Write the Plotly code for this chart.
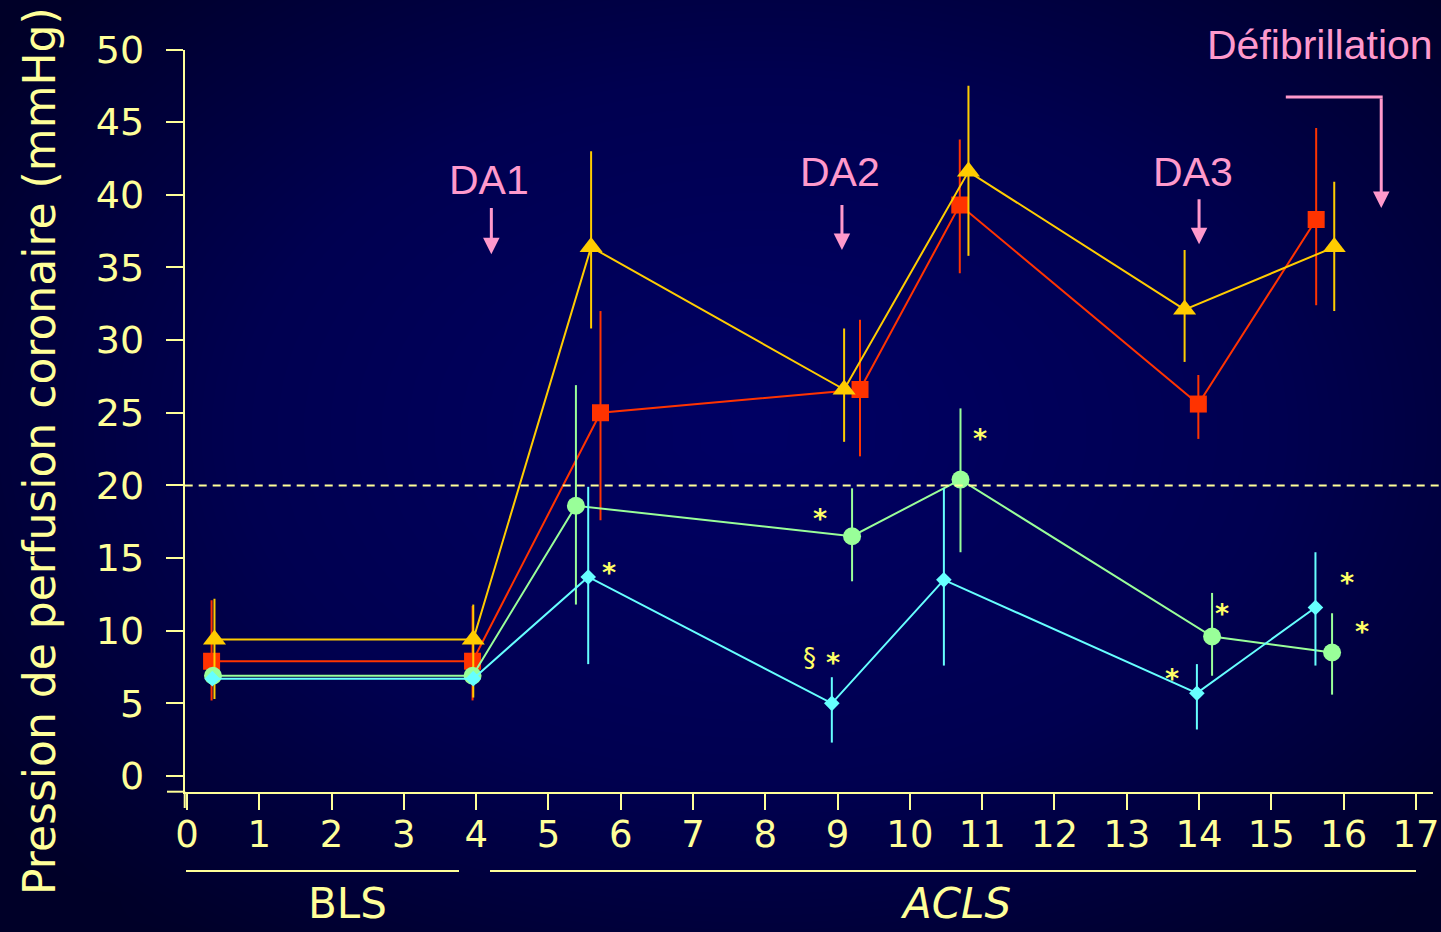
import numpy as np
import plotly.graph_objects as go

# ---- data (time in minutes, coronary perfusion pressure in mmHg) ----
tick_vals_x = list(range(0, 18))
tick_vals_y = list(range(0, 55, 5))

yellow_x = [0.38, 3.96, 5.59, 9.09, 10.81, 13.80, 15.87]
yellow_y = [9.4, 9.4, 36.4, 26.6, 41.6, 32.1, 36.4]
yellow_plus = [2.8, 2.4, 6.6, 4.2, 5.9, 4.1, 4.5]
yellow_minus = [4.1, 4.0, 5.6, 3.6, 5.8, 3.6, 4.4]

red_x = [0.34, 3.95, 5.72, 9.31, 10.69, 13.99, 15.62]
red_y = [7.9, 7.9, 25.0, 26.6, 39.3, 25.6, 38.3]
red_plus = [4.2, 3.8, 7.0, 4.8, 4.5, 2.0, 6.3]
red_minus = [2.7, 2.7, 7.4, 4.6, 4.7, 2.4, 5.9]

green_x = [0.36, 3.95, 5.38, 9.20, 10.70, 14.18, 15.84]
green_y = [6.9, 6.9, 18.6, 16.5, 20.4, 9.6, 8.5]
green_plus = [0, 0, 8.3, 3.3, 4.9, 3.0, 2.7]
green_minus = [0, 0, 6.8, 3.1, 5.0, 2.7, 2.9]

cyan_x = [0.35, 3.96, 5.55, 8.92, 10.47, 13.97, 15.61]
cyan_y = [6.7, 6.7, 13.7, 5.0, 13.5, 5.7, 11.6]
cyan_plus = [0, 0, 6.2, 1.8, 6.3, 2.0, 3.8]
cyan_minus = [0, 0, 6.0, 2.7, 5.9, 2.5, 4.0]

# significance marks
mark_x = [5.84, 8.76, 8.61, 8.94, 10.97, 14.32, 13.63, 16.04, 16.25]
mark_y = [14.5, 18.2, 8.1, 8.3, 23.7, 11.65, 7.2, 13.8, 10.4]
mark_text = ["*", "*", "§", "*", "*", "*", "*", "*", "*"]

# drug administrations (label position, arrow x, arrow tail/tip)
da_labels = ["DA1", "DA2", "DA3"]
da_label_x = [4.18, 9.03, 13.91]
da_label_y = [41.0, 41.6, 41.6]
da_arrow_x = [4.21, 9.06, 14.00]
da_arrow_tail = [39.2, 39.4, 39.8]
da_arrow_tip = [35.9, 36.2, 36.6]

threshold = 20

PALE = "#FFFF99"
PINK = "#FF99CC"
W, H = 1441, 932

fig = go.Figure()

# ---- navy radial background on its own full-page axes ----
gx = np.linspace(0, W, 40)
gy = np.linspace(0, H, 28)
GX, GY = np.meshgrid(gx, gy)
dist = np.sqrt(((GX - 760) / 950) ** 2 + ((GY - 430) / 640) ** 2)
dist = np.clip(dist, 0, 1)
fig.add_trace(go.Heatmap(
    x=gx, y=gy, z=dist, zmin=0, zmax=1, zsmooth="best",
    colorscale=[[0, "rgb(0,0,100)"], [0.55, "rgb(0,0,80)"], [1, "rgb(0,0,40)"]],
    showscale=False, hoverinfo="skip", xaxis="x", yaxis="y",
))


def series(xs, ys, plus, minus, color, symbol, size):
    fig.add_trace(go.Scatter(
        x=xs, y=ys, mode="lines+markers",
        line=dict(color=color, width=2),
        marker=dict(color=color, symbol=symbol, size=size, line=dict(width=0)),
        error_y=dict(type="data", symmetric=False, array=plus, arrayminus=minus,
                     color=color, thickness=2, width=0),
        xaxis="x2", yaxis="y2", showlegend=False,
    ))


series(red_x, red_y, red_plus, red_minus, "#FF3300", "square", 17)
series(yellow_x, yellow_y, yellow_plus, yellow_minus, "#FFCC00", "triangle-up", 20)
series(green_x, green_y, green_plus, green_minus, "#99FF99", "circle", 18)
series(cyan_x, cyan_y, cyan_plus, cyan_minus, "#66FFFF", "diamond", 12)

# plot area in page pixels
left_px, right_px, top_px, bottom_px = 184.7, 1433.0, 49.5, 791.7

annotations = []
for mx, my, mt in zip(mark_x, mark_y, mark_text):
    annotations.append(dict(
        x=mx, y=my, xref="x2", yref="y2",
        text="<b>*</b>" if mt == "*" else mt, showarrow=False,
        font=dict(family="DejaVu Sans", size=27 if mt == "*" else 26, color="#FFFF66"),
        yshift=-7 if mt == "*" else 0,
    ))

for lab, lx, ly, ax_, t0, t1 in zip(da_labels, da_label_x, da_label_y,
                                    da_arrow_x, da_arrow_tail, da_arrow_tip):
    annotations.append(dict(
        x=lx, y=ly, xref="x2", yref="y2", text=lab, showarrow=False,
        font=dict(family="Liberation Sans", size=41, color=PINK),
    ))
    annotations.append(dict(
        x=ax_, y=t1, ax=ax_, ay=t0, xref="x2", yref="y2", axref="x2", ayref="y2",
        text="", showarrow=True, arrowhead=2, arrowsize=1.1, arrowwidth=3,
        arrowcolor=PINK, standoff=0, startstandoff=0,
    ))

annotations.append(dict(
    x=1435 / W, y=1 - 45 / H, xref="paper", yref="paper",
    xanchor="right", yanchor="middle",
    text="Défibrillation", showarrow=False,
    font=dict(family="Liberation Sans", size=41, color=PINK),
))
annotations.append(dict(
    x=16.52, y=39.1, ax=16.52, ay=46.73, xref="x2", yref="y2", axref="x2", ayref="y2",
    text="", showarrow=True, arrowhead=2, arrowsize=1.1, arrowwidth=3,
    arrowcolor=PINK, standoff=0, startstandoff=0,
))

# y-axis title and phase labels
annotations.append(dict(
    x=40 / W, y=1 - 451 / H, xref="paper", yref="paper",
    xanchor="center", yanchor="middle",
    text="Pression de perfusion coronaire (mmHg)", textangle=-90, showarrow=False,
    font=dict(family="DejaVu Sans", size=44, color=PALE),
))
annotations.append(dict(
    x=347 / W, y=1 - 903 / H, xref="paper", yref="paper",
    xanchor="center", yanchor="middle", text="BLS", showarrow=False,
    font=dict(family="DejaVu Sans", size=42, color=PALE),
))
annotations.append(dict(
    x=955 / W, y=1 - 903 / H, xref="paper", yref="paper",
    xanchor="center", yanchor="middle", text="<i>ACLS</i>",
    showarrow=False, font=dict(family="DejaVu Sans", size=42, color=PALE),
))

shapes = [
    # 20 mmHg threshold
    dict(type="line", xref="paper", yref="y2", x0=left_px / W, x1=1, y0=threshold,
         y1=threshold, line=dict(color=PALE, width=2, dash="8px,6px")),
    # axis extensions
    dict(type="line", xref="paper", yref="paper", x0=167 / W, x1=left_px / W,
         y0=1 - bottom_px / H, y1=1 - bottom_px / H, line=dict(color=PALE, width=2)),
    dict(type="line", xref="paper", yref="paper", x0=left_px / W, x1=left_px / W,
         y0=1 - bottom_px / H, y1=1 - 808 / H, line=dict(color=PALE, width=2)),
    # phase brackets
    dict(type="line", xref="paper", yref="paper", x0=186 / W, x1=459 / W,
         y0=1 - 871 / H, y1=1 - 871 / H, line=dict(color=PALE, width=2)),
    dict(type="line", xref="paper", yref="paper", x0=490 / W, x1=1416 / W,
         y0=1 - 871 / H, y1=1 - 871 / H, line=dict(color=PALE, width=2)),
    # defibrillation bracket
    dict(type="line", xref="x2", yref="y2", x0=15.20, x1=16.54, y0=46.73, y1=46.73,
         line=dict(color=PINK, width=3)),
]

x_per_px = 1 / 72.29
y_per_px = 1 / 14.53
x0_px = 187.0
y0_px = 776.0

fig.update_layout(
    width=W, height=H, autosize=False,
    margin=dict(l=0, r=0, t=0, b=0, pad=0, autoexpand=False),
    paper_bgcolor="rgb(0,0,40)", plot_bgcolor="rgba(0,0,0,0)",
    showlegend=False,
    xaxis=dict(domain=[0, 1], range=[0, W], visible=False, fixedrange=True,
               automargin=False),
    yaxis=dict(domain=[0, 1], range=[H, 0], visible=False, fixedrange=True,
               automargin=False),
    xaxis2=dict(
        domain=[left_px / W, right_px / W], anchor="y2", automargin=False,
        range=[(left_px - x0_px) * x_per_px, (right_px - x0_px) * x_per_px],
        tickvals=tick_vals_x, ticks="outside", ticklen=16, tickwidth=2, tickcolor=PALE,
        showline=True, linecolor=PALE, linewidth=2, showgrid=False, zeroline=False,
        tickfont=dict(family="DejaVu Sans", size=37, color=PALE), ticklabelstandoff=-7,
        ticklabeloverflow="allow",
    ),
    yaxis2=dict(
        domain=[1 - bottom_px / H, 1 - top_px / H], anchor="x2", automargin=False,
        range=[(y0_px - bottom_px) * y_per_px, (y0_px - top_px) * y_per_px],
        tickvals=tick_vals_y, ticks="outside", ticklen=17, tickwidth=2, tickcolor=PALE,
        showline=True, linecolor=PALE, linewidth=2, showgrid=False, zeroline=False,
        tickfont=dict(family="DejaVu Sans", size=38, color=PALE), ticklabelstandoff=14,
        ticklabeloverflow="allow",
    ),
    annotations=annotations,
    shapes=shapes,
)

fig.write_html("out.html")
